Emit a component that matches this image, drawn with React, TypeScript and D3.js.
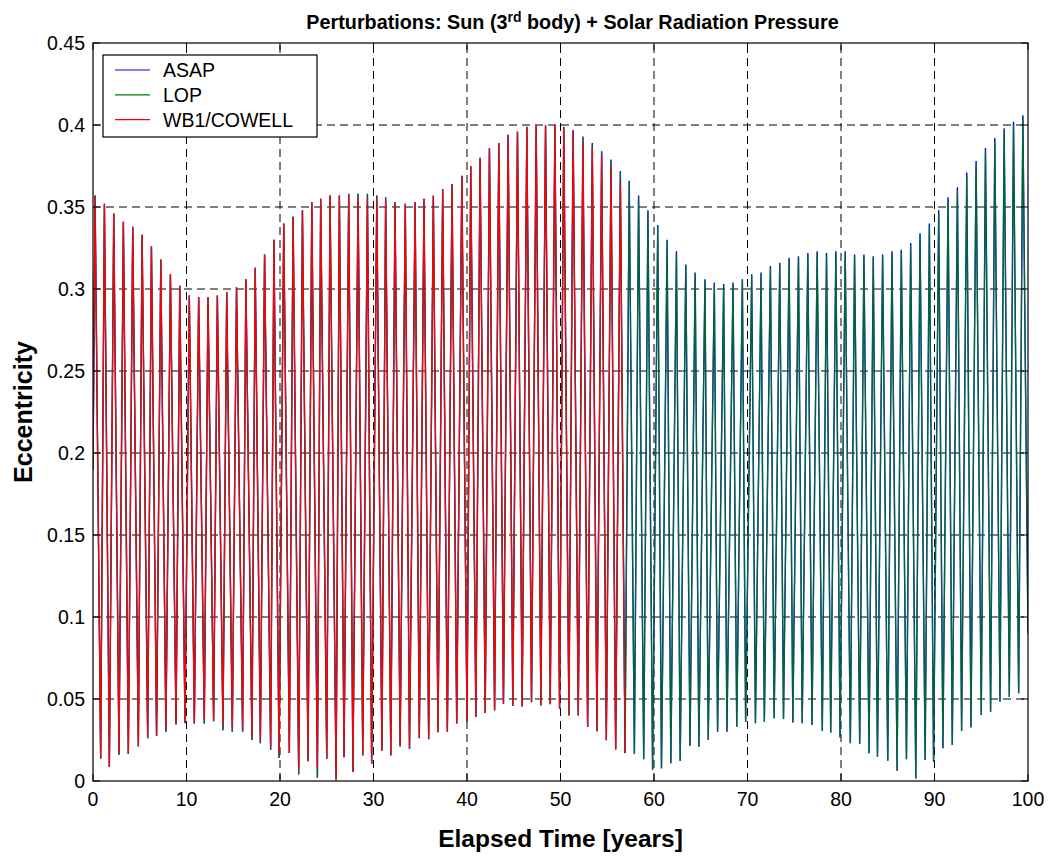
import React from "react";
import * as d3 from "d3";

// ---------- data ----------
const xTicks = [0, 10, 20, 30, 40, 50, 60, 70, 80, 90, 100];
const yTicks = [0, 0.05, 0.1, 0.15, 0.2, 0.25, 0.3, 0.35, 0.4, 0.45];
const yTickLabels = ["0", "0.05", "0.1", "0.15", "0.2", "0.25", "0.3", "0.35", "0.4", "0.45"];

const seriesNames = ["ASAP", "LOP", "WB1/COWELL"];
const seriesColors = ["#0000ff", "#008000", "#ff0000"];

// first and last samples
const startTime = 0;
const startValue = 0.19;
const endTime = 100;
const endValue = 0.09;

// times of the maxima (years), one per cycle
const peakTimes = [
  0.22, 1.22, 2.22, 3.25, 4.25, 5.25, 6.25, 7.25, 8.28, 9.28,
  10.3, 11.3, 12.3, 13.3, 14.3, 15.35, 16.35, 17.35, 18.35, 19.35,
  20.4, 21.4, 22.4, 23.4, 24.35, 25.35, 26.35, 27.35, 28.35, 29.35,
  30.35, 31.3, 32.3, 33.4, 34.45, 35.4, 36.4, 37.4, 38.4, 39.45,
  40.4, 41.4, 42.4, 43.4, 44.4, 45.4, 46.4, 47.4, 48.4, 49.4,
  50.35, 51.35, 52.4, 53.4, 54.4, 55.4, 56.4, 57.35, 58.35, 59.35,
  60.4, 61.4, 62.4, 63.4, 64.4, 65.45, 66.45, 67.45, 68.45, 69.45,
  70.45, 71.45, 72.45, 73.45, 74.45, 75.45, 76.45, 77.45, 78.45, 79.45,
  80.45, 81.45, 82.45, 83.45, 84.45, 85.45, 86.45, 87.45, 88.45, 89.45,
  90.45, 91.45, 92.45, 93.45, 94.45, 95.45, 96.45, 97.45, 98.45, 99.45,
];

// times of the minima (years)
const troughTimes = [
  0.82, 1.75, 2.78, 3.78, 4.85, 5.85, 6.8, 7.8, 8.88, 9.84,
  10.84, 11.9, 12.9, 13.9, 14.9, 16.0, 17.0, 17.9, 19.0, 19.9,
  21.0, 22.0, 23.0, 24.0, 25.0, 26.0, 26.85, 27.8, 28.85, 29.8,
  30.9, 31.85, 32.85, 33.85, 34.9, 35.9, 36.9, 37.9, 38.9, 40.0,
  40.95, 41.95, 42.95, 43.9, 44.9, 45.9, 46.9, 47.9, 48.9, 49.9,
  50.9, 51.9, 52.9, 53.9, 54.9, 55.9, 56.9, 57.9, 58.9, 59.85,
  60.8, 61.8, 62.8, 63.85, 64.8, 65.8, 66.8, 67.8, 68.85, 69.8,
  70.85, 71.8, 72.85, 73.85, 74.85, 75.85, 76.9, 78.0, 78.9, 79.9,
  81.0, 82.0, 83.0, 83.9, 85.0, 86.0, 87.0, 88.0, 89.0, 89.9,
  90.9, 91.9, 92.9, 93.9, 95.0, 96.0, 97.0, 98.0, 99.0,
];

const asapPeaks = [
  0.357, 0.352, 0.346, 0.341, 0.338, 0.333, 0.326, 0.318, 0.309, 0.302,
  0.296, 0.295, 0.295, 0.296, 0.298, 0.301, 0.306, 0.313, 0.321, 0.33,
  0.34, 0.344, 0.348, 0.353, 0.355, 0.357, 0.357, 0.358, 0.358, 0.358,
  0.357, 0.356, 0.353, 0.352, 0.353, 0.355, 0.357, 0.361, 0.364, 0.369,
  0.375, 0.38, 0.386, 0.389, 0.394, 0.396, 0.399, 0.4, 0.4, 0.4,
  0.399, 0.397, 0.393, 0.389, 0.384, 0.379, 0.372, 0.366, 0.357, 0.348,
  0.339, 0.33, 0.323, 0.315, 0.31, 0.306, 0.304, 0.303, 0.304, 0.306,
  0.309, 0.31, 0.314, 0.316, 0.319, 0.32, 0.322, 0.323, 0.322, 0.323,
  0.323, 0.321, 0.321, 0.32, 0.321, 0.323, 0.324, 0.328, 0.334, 0.34,
  0.348, 0.356, 0.362, 0.371, 0.378, 0.386, 0.392, 0.398, 0.402, 0.406,
];

const lopPeaks = [
  0.357, 0.352, 0.346, 0.341, 0.338, 0.333, 0.326, 0.318, 0.309, 0.302,
  0.296, 0.295, 0.295, 0.296, 0.298, 0.301, 0.306, 0.313, 0.321, 0.33,
  0.34, 0.344, 0.348, 0.353, 0.355, 0.357, 0.357, 0.358, 0.358, 0.358,
  0.357, 0.356, 0.353, 0.352, 0.352, 0.354, 0.356, 0.36, 0.363, 0.368,
  0.374, 0.379, 0.385, 0.388, 0.393, 0.395, 0.398, 0.399, 0.399, 0.399,
  0.398, 0.396, 0.392, 0.388, 0.383, 0.378, 0.371, 0.365, 0.356, 0.347,
  0.338, 0.329, 0.322, 0.314, 0.309, 0.305, 0.303, 0.302, 0.303, 0.305,
  0.308, 0.309, 0.313, 0.315, 0.318, 0.319, 0.321, 0.322, 0.321, 0.322,
  0.322, 0.32, 0.32, 0.319, 0.32, 0.322, 0.323, 0.327, 0.333, 0.338,
  0.346, 0.354, 0.36, 0.369, 0.376, 0.384, 0.39, 0.396, 0.4, 0.405,
];

const asapTroughs = [
  0.0135, 0.0085, 0.016, 0.0165, 0.021, 0.026, 0.0275, 0.03, 0.0345, 0.0352,
  0.035, 0.035, 0.0365, 0.031, 0.03, 0.03, 0.025, 0.023, 0.019, 0.014,
  0.017, 0.004, 0.012, 0.002, 0.0135, 0.001, 0.0145, 0.0055, 0.0155, 0.0105,
  0.0185, 0.0155, 0.021, 0.0195, 0.026, 0.0255, 0.0298, 0.03, 0.035, 0.036,
  0.039, 0.0415, 0.043, 0.047, 0.0458, 0.0455, 0.048, 0.046, 0.0468, 0.044,
  0.04, 0.04, 0.033, 0.0303, 0.0248, 0.0192, 0.017, 0.0165, 0.0132, 0.0067,
  0.0077, 0.0108, 0.0122, 0.0215, 0.0209, 0.025, 0.0301, 0.0301, 0.0331, 0.0362,
  0.0352, 0.0362, 0.0382, 0.0378, 0.0356, 0.0352, 0.0341, 0.0305, 0.0295, 0.0266,
  0.023, 0.0226, 0.0169, 0.0148, 0.0124, 0.0063, 0.0132, 0.0016, 0.0128, 0.0118,
  0.0199, 0.022, 0.0305, 0.0327, 0.0402, 0.0423, 0.0484, 0.0514, 0.0535,
];

// WB1/COWELL stops after about 57 years
const cowellPeaks = [
  0.357, 0.352, 0.346, 0.341, 0.338, 0.333, 0.326, 0.318, 0.309, 0.302,
  0.296, 0.295, 0.295, 0.296, 0.298, 0.301, 0.306, 0.313, 0.321, 0.33,
  0.34, 0.344, 0.348, 0.353, 0.355, 0.357, 0.357, 0.357, 0.356, 0.355,
  0.355, 0.354, 0.352, 0.352, 0.353, 0.355, 0.357, 0.361, 0.364, 0.369,
  0.375, 0.38, 0.386, 0.389, 0.394, 0.396, 0.399, 0.4, 0.4, 0.4,
  0.398, 0.396, 0.39, 0.386, 0.381, 0.375, 0.365,
];

const cowellTroughs = [
  0.0138, 0.0087, 0.0165, 0.0169, 0.0215, 0.0266, 0.028, 0.0315, 0.0348, 0.0356,
  0.0352, 0.0372, 0.0368, 0.0335, 0.0327, 0.0315, 0.027, 0.025, 0.0209, 0.0159,
  0.0173, 0.0067, 0.0122, 0.0077, 0.0138, 0.0, 0.0148, 0.0057, 0.0159, 0.0108,
  0.0189, 0.0159, 0.0215, 0.0199, 0.0266, 0.026, 0.0301, 0.0305, 0.0352, 0.0362,
  0.0392, 0.0417, 0.0433, 0.0474, 0.046, 0.0457, 0.0484, 0.0463, 0.047, 0.0443,
  0.0402, 0.0402, 0.0331, 0.0305, 0.025, 0.0193, 0.0173,
];

// ---------- helpers ----------
type Pt = [number, number];

function buildSeries(peaks: number[], troughs: number[], withEnd: boolean): Pt[] {
  const pts: Pt[] = [[startTime, startValue]];
  for (let i = 0; i < peaks.length; i++) {
    pts.push([peakTimes[i], peaks[i]]);
    if (i < troughs.length) pts.push([troughTimes[i], troughs[i]]);
  }
  if (withEnd) pts.push([endTime, endValue]);
  return pts;
}

const W = 1049;
const H = 856;
const margin = { left: 93, right: 1028, top: 43, bottom: 781 };
const FONT = "'Liberation Sans', Arial, Helvetica, sans-serif";

export default function App() {
  const x = d3.scaleLinear().domain([0, 100]).range([margin.left, margin.right]);
  const y = d3.scaleLinear().domain([0, 0.45]).range([margin.bottom, margin.top]);

  const line = d3
    .line<Pt>()
    .x((d) => x(d[0]))
    .y((d) => y(d[1]))
    .curve(d3.curveLinear);

  const asap = buildSeries(asapPeaks, asapTroughs, true);
  const lop = buildSeries(lopPeaks, asapTroughs, true);
  const cowell = buildSeries(cowellPeaks, cowellTroughs, false);

  const pw = margin.right - margin.left;
  const ph = margin.bottom - margin.top;
  const tick = 7;
  const dash = "8,5";

  return (
    <svg
      width={W}
      height={H}
      style={{ position: "absolute", left: 0, top: 0, background: "#fff" }}
      fontFamily={FONT}
    >
      <rect x={0} y={0} width={W} height={H} fill="#fff" />
      <defs>
        <clipPath id="plotclip">
          <rect x={margin.left} y={margin.top} width={pw} height={ph} />
        </clipPath>
      </defs>

      {/* grid */}
      <g stroke="#000" strokeWidth={1} strokeDasharray={dash} fill="none">
        {xTicks.slice(1, -1).map((t) => (
          <line key={"gx" + t} x1={x(t)} x2={x(t)} y1={margin.bottom} y2={margin.top} />
        ))}
        {yTicks.slice(1, -1).map((t) => (
          <line key={"gy" + t} x1={margin.left} x2={margin.right} y1={y(t)} y2={y(t)} />
        ))}
      </g>

      {/* data */}
      <g clipPath="url(#plotclip)" fill="none" strokeLinejoin="miter" strokeMiterlimit={10}>
        <path d={line(asap) || ""} stroke={seriesColors[0]} strokeWidth={1.4} />
        <path d={line(lop) || ""} stroke={seriesColors[1]} strokeWidth={1.3} strokeOpacity={0.8} />
        <path d={line(cowell) || ""} stroke={seriesColors[2]} strokeWidth={1.2} />
      </g>

      {/* ticks */}
      <g stroke="#000" strokeWidth={1}>
        {xTicks.map((t) => (
          <g key={"tx" + t}>
            <line x1={x(t)} x2={x(t)} y1={margin.bottom} y2={margin.bottom - tick} />
            <line x1={x(t)} x2={x(t)} y1={margin.top} y2={margin.top + tick} />
          </g>
        ))}
        {yTicks.map((t) => (
          <g key={"ty" + t}>
            <line x1={margin.left} x2={margin.left + tick} y1={y(t)} y2={y(t)} />
            <line x1={margin.right} x2={margin.right - tick} y1={y(t)} y2={y(t)} />
          </g>
        ))}
      </g>

      {/* box */}
      <rect x={margin.left} y={margin.top} width={pw} height={ph} fill="none" stroke="#000" strokeWidth={1.2} />

      {/* tick labels */}
      <g fontSize={19.5} fill="#000">
        {xTicks.map((t) => (
          <text key={"lx" + t} x={x(t)} y={806} textAnchor="middle">
            {String(t)}
          </text>
        ))}
        {yTicks.map((t, i) => (
          <text key={"ly" + t} x={85} y={y(t) + 7} textAnchor="end">
            {yTickLabels[i]}
          </text>
        ))}
      </g>

      {/* axis labels */}
      <text x={(margin.left + margin.right) / 2} y={847} textAnchor="middle" fontWeight="bold" fontSize={24.5}>
        Elapsed Time [years]
      </text>
      <text
        transform={`translate(32, ${(margin.top + margin.bottom) / 2}) rotate(-90)`}
        textAnchor="middle"
        fontWeight="bold"
        fontSize={25}
      >
        Eccentricity
      </text>

      {/* title */}
      <text x={(margin.left + margin.right) / 2 + 12} y={29} textAnchor="middle" fontWeight="bold" fontSize={19.8}>
        Perturbations: Sun (3
        <tspan dy={-7} fontSize={14}>rd</tspan>
        <tspan dy={7}> body) + Solar Radiation Pressure</tspan>
      </text>

      {/* legend */}
      <g>
        <rect x={103} y={55} width={214} height={82} fill="#fff" stroke="#000" strokeWidth={1.2} />
        {seriesNames.map((name, i) => (
          <g key={name}>
            <line x1={115} x2={150} y1={70 + i * 24.8} y2={70 + i * 24.8} stroke={seriesColors[i]} strokeWidth={1.2} />
            <text x={163} y={77.3 + i * 24.7} fontSize={19.5} fill="#000">
              {name}
            </text>
          </g>
        ))}
      </g>
    </svg>
  );
}
